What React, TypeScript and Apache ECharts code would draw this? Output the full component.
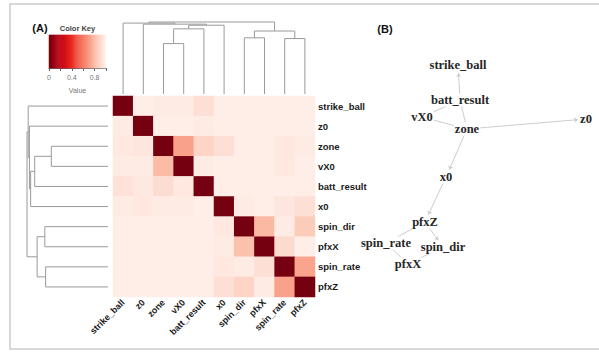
import React, { useEffect, useRef } from 'react';
import * as echarts from 'echarts';

// ---------- data ----------
const labels = ['strike_ball', 'z0', 'zone', 'vX0', 'batt_result', 'x0', 'spin_dir', 'pfxX', 'spin_rate', 'pfxZ'];

// value matrix rows (top to bottom), columns in the same order as labels
const rowStrikeBall = [0, 0.98, 0.97, 0.97, 0.93, 0.98, 0.98, 0.98, 0.98, 0.98];
const rowZ0 = [0.97, 0, 0.98, 0.98, 0.97, 0.98, 0.98, 0.98, 0.98, 0.98];
const rowZone = [0.96, 0.95, 0, 0.72, 0.89, 0.93, 0.98, 0.98, 0.96, 0.97];
const rowVX0 = [0.97, 0.97, 0.8, 0, 0.97, 0.98, 0.98, 0.98, 0.96, 0.98];
const rowBattResult = [0.94, 0.96, 0.92, 0.96, 0, 0.98, 0.98, 0.98, 0.98, 0.98];
const rowX0 = [0.97, 0.96, 0.97, 0.97, 0.98, 0, 0.97, 0.98, 0.95, 0.93];
const rowSpinDir = [0.98, 0.98, 0.98, 0.98, 0.98, 0.96, 0, 0.79, 0.97, 0.86];
const rowPfxX = [0.98, 0.98, 0.98, 0.98, 0.98, 0.97, 0.82, 0, 0.91, 0.98];
const rowSpinRate = [0.98, 0.98, 0.98, 0.98, 0.98, 0.96, 0.97, 0.93, 0, 0.73];
const rowPfxZ = [0.98, 0.98, 0.98, 0.98, 0.98, 0.93, 0.89, 0.97, 0.72, 0];
const matrixRows = [rowStrikeBall, rowZ0, rowZone, rowVX0, rowBattResult, rowX0, rowSpinDir, rowPfxX, rowSpinRate, rowPfxZ];

// dendrogram merges (hclust style: negative = leaf position (1-based), positive = earlier merge)
const mergeLeft = [-3, 1, -7, -9, 3, 2, -2, -1, 8];
const mergeRight = [-4, -5, -8, -10, 4, -6, 6, 7, 5];
const mergeHeight = [0.7, 0.905, 0.78, 0.77, 0.875, 0.955, 0.97, 0.985, 1.0];

// color key
const keyBins = 60;
const keyColors = ['#75000F', '#C00010', '#EA2A20', '#F77A62', '#FBBBA5', '#FFF3EF'];
const keyLabelValues = [0, 0.4, 0.8];

// network (B)
const nodeNames = ['strike_ball', 'batt_result', 'vX0', 'zone', 'z0', 'x0', 'pfxZ', 'spin_rate', 'spin_dir', 'pfxX'];
const nodeX = [458, 460, 422, 467, 586, 446, 425, 386, 443, 408];
const nodeY = [65, 100, 117, 129, 119, 177, 222, 243, 247, 264];
const edgeFrom = ['batt_result', 'batt_result', 'batt_result', 'vX0', 'zone', 'zone', 'x0', 'pfxZ', 'pfxZ', 'spin_rate', 'spin_dir'];
const edgeTo = ['strike_ball', 'vX0', 'zone', 'zone', 'z0', 'x0', 'pfxZ', 'spin_rate', 'spin_dir', 'pfxX', 'pfxX'];
const edgeArrow = [true, false, false, false, true, true, true, false, true, false, false];

// ---------- helpers ----------
function dendroSegments() {
  const pos: number[] = [];
  const hts: number[] = [];
  const get = (k: number) => (k < 0 ? [-k - 1 + 0.5, 0] : [pos[k - 1], hts[k - 1]]);
  const out: number[][] = [];
  for (let i = 0; i < mergeLeft.length; i++) {
    const [pl, hl] = get(mergeLeft[i]);
    const [pr, hr] = get(mergeRight[i]);
    pos.push((pl + pr) / 2);
    hts.push(mergeHeight[i]);
    out.push([pl, hl, pr, hr, mergeHeight[i]]);
  }
  return out;
}

const labelFont = { fontFamily: 'Liberation Sans, Arial, sans-serif', fontWeight: 'bold' as const, fontSize: 9.5, color: '#1a1a1a' };

export default function App() {
  const ref = useRef<HTMLDivElement>(null);
  useEffect(() => {
    document.body.style.margin = '0';
    if (!ref.current) return;
    const chart = echarts.init(ref.current, undefined, { renderer: 'svg' });
    const heatData: number[][] = [];
    matrixRows.forEach((row, r) => row.forEach((v, c) => heatData.push([c, r, v])));
    const keyCats = Array.from({ length: keyBins }, (_, i) => String(i));
    const keyData = keyCats.map((_, i) => [i, 0, (i + 0.5) / keyBins]);
    const segs = dendroSegments();
    const makeDendro = (orient: 'top' | 'left', xi: number, yi: number) => ({
      type: 'custom',
      xAxisIndex: xi,
      yAxisIndex: yi,
      silent: true,
      data: segs,
      renderItem: (_p: any, api: any) => {
        const pl = api.value(0), hl = api.value(1), pr = api.value(2), hr = api.value(3), h = api.value(4);
        const pts = orient === 'top'
          ? [[pl, hl], [pl, h], [pr, h], [pr, hr]]
          : [[hl, pl], [h, pl], [h, pr], [hr, pr]];
        return {
          type: 'polyline',
          shape: { points: pts.map((p) => api.coord(p)) },
          style: { stroke: '#9a9a9a', fill: 'none', lineWidth: 1 },
        };
      },
    });

    chart.setOption({
      animation: false,
      backgroundColor: '#ffffff',
      grid: [
        { left: 113, top: 96, width: 202, height: 201 },
        { left: 113, top: 22, width: 202, height: 72 },
        { left: 27, top: 96, width: 81, height: 201 },
        { left: 49, top: 35, width: 57, height: 33 },
        { left: 0, top: 0, width: 599, height: 353 },
      ],
      xAxis: [
        {
          type: 'category', gridIndex: 0, data: labels, position: 'bottom',
          axisLine: { show: false }, axisTick: { show: false }, splitLine: { show: false },
          axisLabel: { ...labelFont, fontSize: 9, rotate: 45, interval: 0, margin: 4 },
        },
        { type: 'value', gridIndex: 1, min: 0, max: 10, show: false },
        { type: 'value', gridIndex: 2, min: 0, max: 1, inverse: true, show: false },
        { type: 'category', gridIndex: 3, data: keyCats, show: false },
        {
          type: 'value', gridIndex: 3, min: 0, max: 1, interval: 0.2, position: 'bottom',
          axisLine: { show: true, onZero: false, lineStyle: { color: '#666', width: 1 } },
          axisTick: { show: true, length: 3, lineStyle: { color: '#666' } },
          splitLine: { show: false },
          axisLabel: {
            margin: 6, fontSize: 7, color: '#777', fontFamily: 'Liberation Sans, Arial, sans-serif',
            formatter: (v: number) => (keyLabelValues.some((k) => Math.abs(k - v) < 1e-6) ? String(Math.round(v * 10) / 10) : ''),
          },
          name: 'Value', nameLocation: 'middle', nameGap: 19,
          nameTextStyle: { fontSize: 7, color: '#777', fontFamily: 'Liberation Sans, Arial, sans-serif' },
        },
        { type: 'value', gridIndex: 4, min: 0, max: 599, show: false },
      ],
      yAxis: [
        {
          type: 'category', gridIndex: 0, data: labels, inverse: true, position: 'right',
          axisLine: { show: false }, axisTick: { show: false }, splitLine: { show: false },
          axisLabel: { ...labelFont, margin: 3 },
        },
        { type: 'value', gridIndex: 1, min: 0, max: 1, show: false },
        { type: 'value', gridIndex: 2, min: 0, max: 10, inverse: true, show: false },
        { type: 'category', gridIndex: 3, data: ['k'], show: false },
        { type: 'value', gridIndex: 4, min: 0, max: 353, inverse: true, show: false },
      ],
      visualMap: {
        type: 'continuous', show: false, min: 0, max: 1, seriesIndex: [0, 1],
        inRange: { color: keyColors },
      },
      series: [
        { type: 'heatmap', xAxisIndex: 0, yAxisIndex: 0, data: heatData, silent: true, itemStyle: { borderWidth: 0 } },
        { type: 'heatmap', xAxisIndex: 3, yAxisIndex: 3, data: keyData, silent: true, itemStyle: { borderWidth: 0 } },
        makeDendro('top', 1, 1),
        makeDendro('left', 2, 2),
        {
          type: 'graph', coordinateSystem: 'cartesian2d', xAxisIndex: 5, yAxisIndex: 4,
          layout: 'none', silent: true,
          symbol: 'circle', symbolSize: 16,
          itemStyle: { color: 'rgba(255,255,255,0)' },
          data: nodeNames.map((n, i) => ({ name: n, value: [nodeX[i], nodeY[i]] })),
          links: edgeFrom.map((s, i) => ({
            source: s, target: edgeTo[i],
            symbol: edgeArrow[i] ? ['none', 'arrow'] : ['none', 'none'],
            symbolSize: [0, 4],
          })),
          lineStyle: { color: '#cdcdcd', width: 1, opacity: 1, curveness: 0 },
          label: {
            show: true, position: 'inside', formatter: '{b}',
            fontFamily: 'Liberation Serif, Times New Roman, serif', fontWeight: 'bold', fontSize: 12.5,
            color: '#262626', backgroundColor: '#ffffff', padding: [0, 1],
          },
          emphasis: { disabled: true },
        },
      ],
      graphic: [
        {
          type: 'rect', silent: true, z: -10,
          shape: { x: 10, y: 4, width: 600, height: 345 },
          style: { fill: 'none', stroke: '#cccccc', lineWidth: 1.5 },
        },
        {
          type: 'text', x: 40, y: 28,
          style: { text: '(A)', fontFamily: 'Liberation Sans, Arial, sans-serif', fontWeight: 'bold', fontSize: 11, fill: '#111', align: 'center', verticalAlign: 'middle' },
        },
        {
          type: 'text', x: 77.5, y: 28,
          style: { text: 'Color Key', fontFamily: 'Liberation Sans, Arial, sans-serif', fontWeight: 'bold', fontSize: 7.5, fill: '#444', align: 'center', verticalAlign: 'middle' },
        },
        {
          type: 'text', x: 385, y: 29,
          style: { text: '(B)', fontFamily: 'Liberation Sans, Arial, sans-serif', fontWeight: 'bold', fontSize: 11, fill: '#111', align: 'center', verticalAlign: 'middle' },
        },
      ],
    });
    return () => chart.dispose();
  }, []);
  return <div ref={ref} style={{ width: 599, height: 353 }} />;
}
